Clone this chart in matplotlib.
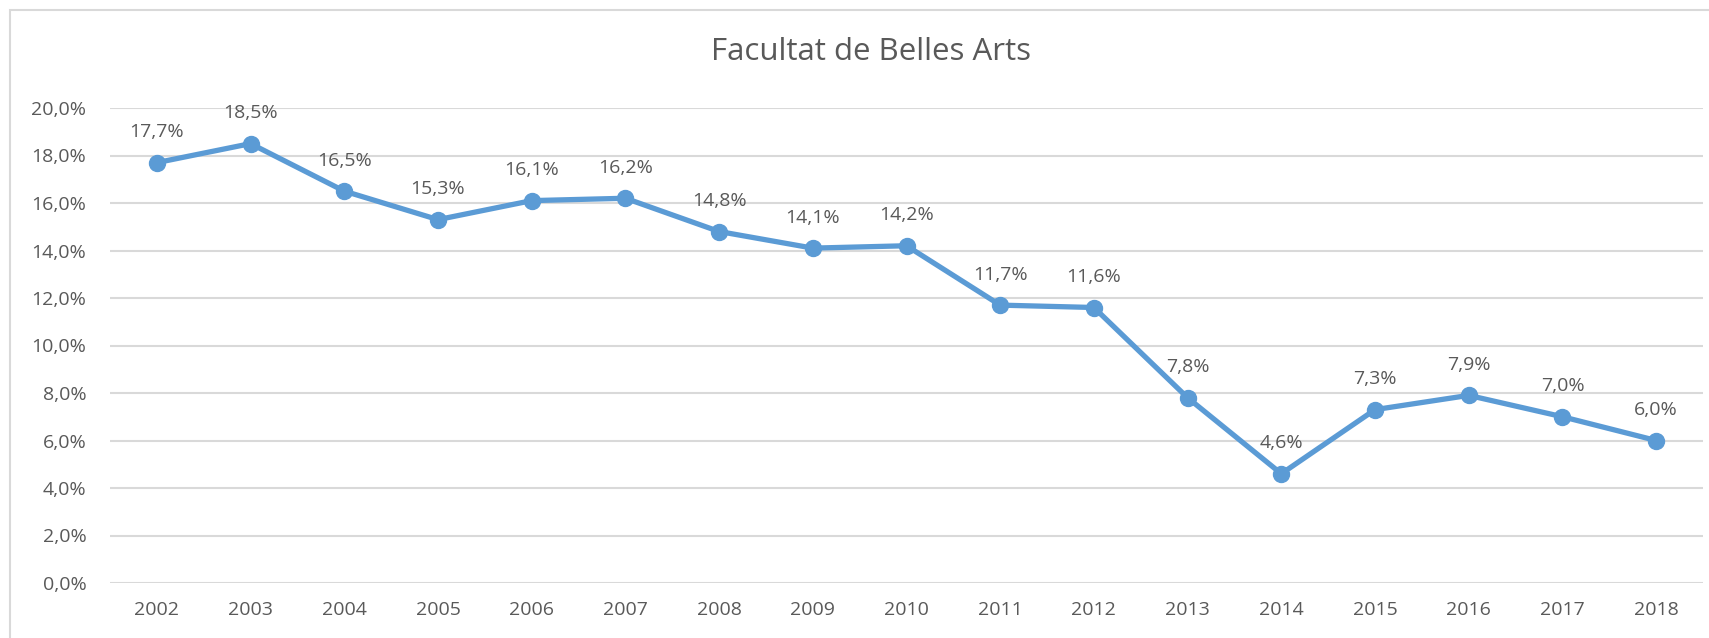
import matplotlib.pyplot as plt
from matplotlib.patches import Rectangle
from matplotlib.ticker import FuncFormatter

######## DATA ########

years = ["2002", "2003", "2004", "2005", "2006", "2007", "2008", "2009", "2010",
         "2011", "2012", "2013", "2014", "2015", "2016", "2017", "2018"]
values = [17.7, 18.5, 16.5, 15.3, 16.1, 16.2, 14.8, 14.1, 14.2,
          11.7, 11.6, 7.8, 4.6, 7.3, 7.9, 7.0, 6.0]
y_ticks = [0, 2, 4, 6, 8, 10, 12, 14, 16, 18, 20]

######## STYLE ########

plt.rcParams["font.family"] = ["Open Sans", "DejaVu Sans"]
TEXT = "#595959"
LINE = "#5B9BD5"
GRID = "#D9D9D9"

W, H = 1709, 638
fig = plt.figure(figsize=(W / 100, H / 100), dpi=100)

# chart frame (only top/left edges visible in the crop)
fig.patches.append(Rectangle((10 / W, -0.1), 1.1, (H - 10) / H + 0.1,
                             transform=fig.transFigure, fill=False,
                             edgecolor=GRID, linewidth=1.5))

ax = fig.add_axes([110 / W, 55 / H, (1703 - 110) / W, (583 - 108) / H])

x = range(len(years))
ax.plot(x, values, color=LINE, linewidth=3.8, marker="o", markersize=11.5,
        solid_capstyle="round", zorder=3)

for xi, v in zip(x, values):
    ax.annotate(f"{v:.1f}%".replace(".", ","), (xi, v), xytext=(0, 22),
                textcoords="offset points", ha="center", va="center",
                fontsize=14, color=TEXT)

ax.set_xlim(-0.5, len(years) - 0.5)
ax.set_ylim(0, 20)
ax.set_xticks(list(x))
ax.set_xticklabels(years)
ax.set_yticks(y_ticks)
ax.yaxis.set_major_formatter(FuncFormatter(lambda v, p: f"{v:.1f}%".replace(".", ",")))

ax.grid(axis="y", color=GRID, linewidth=1.5)
ax.set_axisbelow(True)
for s in ax.spines.values():
    s.set_visible(False)
ax.tick_params(axis="both", length=0, labelsize=14, labelcolor=TEXT)
ax.tick_params(axis="y", pad=17)
ax.tick_params(axis="x", pad=13)

fig.text((705 + 1037) / 2 / W, 1 - 52 / H, "Facultat de Belles Arts",
         ha="center", va="center", fontsize=22.5, color=TEXT)

fig.savefig("out.png", dpi=100)
